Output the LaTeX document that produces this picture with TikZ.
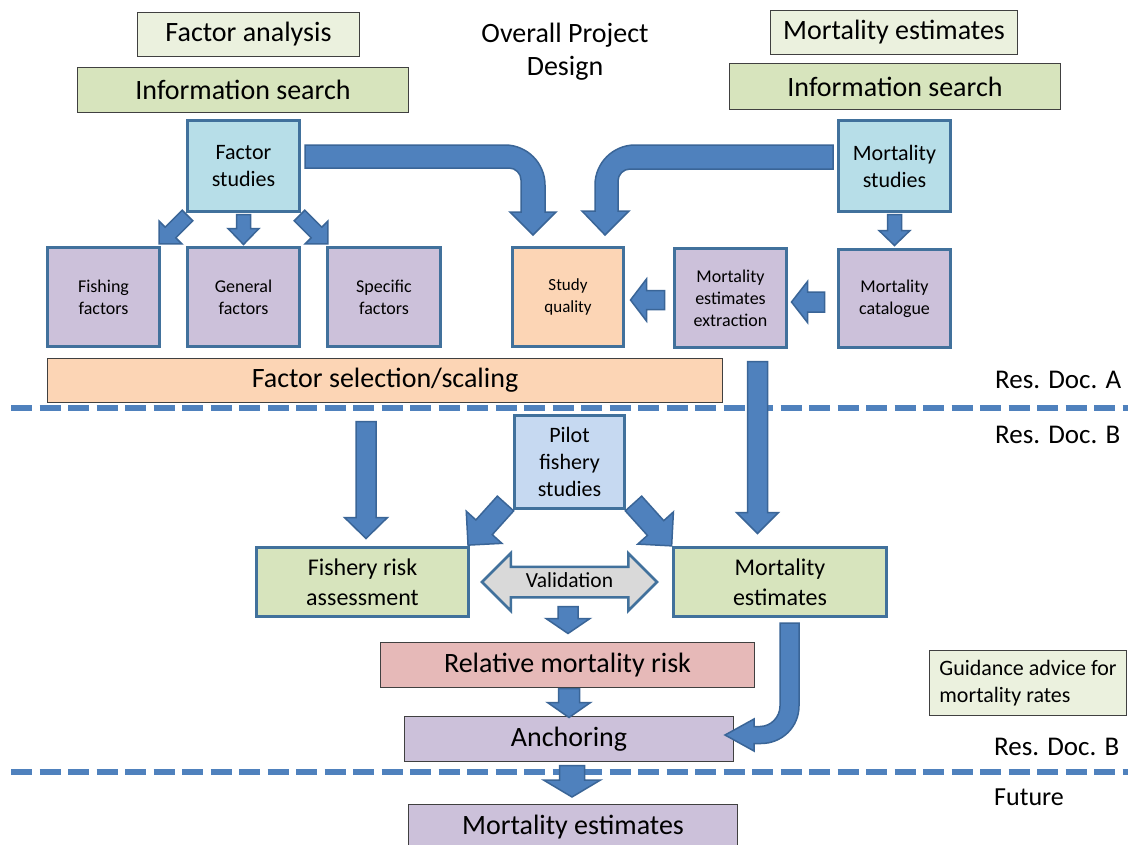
\documentclass[tikz,border=0pt]{standalone}
\usepackage{fontspec}
\setmainfont{Carlito}
\usetikzlibrary{calc,shapes.arrows}
\definecolor{arrfill}{HTML}{4F81BD}
\definecolor{arrline}{HTML}{3A6597}
\definecolor{boxline}{HTML}{41719C}
\definecolor{lgreen}{HTML}{EBF1DE}
\definecolor{mgreen}{HTML}{D7E4BD}
\definecolor{lblue}{HTML}{B7DEE8}
\definecolor{pblue}{HTML}{C6D9F1}
\definecolor{lpurple}{HTML}{CCC1DA}
\definecolor{lorange}{HTML}{FCD5B5}
\definecolor{lpink}{HTML}{E6B9B8}
\definecolor{lgray}{HTML}{D9D9D9}
\tikzset{
  barrow/.style={fill=arrfill, draw=arrline, line width=1.5pt, line join=miter},
  bbox/.style={draw=boxline, line width=3pt, inner sep=2pt, align=center, outer sep=0pt},
  tbox/.style={draw=black!75, line width=1.2pt, inner sep=2pt, align=center, outer sep=0pt},
  lbl/.style={anchor=west, inner sep=0pt, font=\fontsize{27}{33}\selectfont},
  f28/.style={font=\fontsize{28}{33}\selectfont},
  f24/.style={font=\fontsize{24}{30}\selectfont},
  f22/.style={font=\fontsize{22}{27}\selectfont},
  f18/.style={font=\fontsize{18}{22}\selectfont},
  f17/.style={font=\fontsize{17}{22}\selectfont},
  dashline/.style={draw=arrfill, line width=6.5pt, dash pattern=on 21pt off 7.5pt},
  valarrow/.style={shape=double arrow, fill=lgray, draw=boxline, line width=2.5pt,
    double arrow head extend=13.5pt, minimum height=175pt, inner xsep=0pt, inner ysep=4pt,
    text height=15pt, text depth=5pt, font=\fontsize{21.5}{25}\selectfont}
}
\newcommand{\blockarr}[6]{%
  \begin{scope}[shift={#1},rotate=#2]
    \draw[barrow] (0,#4) -- ({#3-#6},#4) -- ({#3-#6},#5) -- (#3,0) -- ({#3-#6},-#5) -- ({#3-#6},-#4) -- (0,-#4) -- cycle;
  \end{scope}}
\begin{document}
\begin{tikzpicture}[x=1pt,y=-1pt]
\useasboundingbox (0,0) rectangle (1128,844);
\fill[white] (0,0) rectangle (1128,844);

% separators
\draw[dashline] (11,408) -- (1128,408);
\draw[dashline] (11,772) -- (1128,772);

% top headers
\node[tbox,fill=lgreen,f28,minimum width=222,minimum height=44] (fa) at (248.5,34.5) {Factor analysis};
\node[tbox,fill=mgreen,f28,minimum width=331,minimum height=45] (isL) at (243,90) {Information search};
\node[tbox,fill=lgreen,f28,minimum width=247,minimum height=44] (me) at (894,32.5) {Mortality estimates};
\node[tbox,fill=mgreen,f28,minimum width=331,minimum height=46] (isR) at (895,86.5) {Information search};
\node[f28,align=center] (opd) at (565,52) {Overall Project\\Design};

% upper boxes
\node[bbox,fill=lblue,f22,minimum width=112,minimum height=91] (fs) at (243.5,166) {Factor\\studies};
\node[bbox,fill=lblue,f22,minimum width=112,minimum height=91] (ms) at (894.5,166) {Mortality\\studies};
\node[bbox,fill=lpurple,f18,minimum width=112,minimum height=99] (ff) at (103.5,297) {Fishing\\factors};
\node[bbox,fill=lpurple,f18,minimum width=112,minimum height=99] (gf) at (243.5,297) {General\\factors};
\node[bbox,fill=lpurple,f18,minimum width=113,minimum height=99] (sf) at (384,297) {Specific\\factors};
\node[bbox,fill=lorange,f17,minimum width=111,minimum height=99] (sq) at (568,297) {Study\\quality};
\node[bbox,fill=lpurple,f18,minimum width=112,minimum height=99] (ex) at (730.5,298) {Mortality\\estimates\\extraction};
\node[bbox,fill=lpurple,f18,minimum width=112,minimum height=98] (mc) at (894.5,298.5) {Mortality\\catalogue};
\node[tbox,fill=lorange,f28,minimum width=675,minimum height=44] (fsel) at (385,380.5) {Factor selection/scaling};

% lower boxes
\node[bbox,fill=pblue,f22,minimum width=110,minimum height=93] (pf) at (569.5,462) {Pilot\\fishery\\studies};
\node[bbox,fill=mgreen,f24,minimum width=212,minimum height=69] (fr) at (362.5,582) {Fishery risk\\assessment};
\node[bbox,fill=mgreen,f24,minimum width=213,minimum height=69] (mg) at (780,582) {Mortality\\estimates};
\node[valarrow] (va) at (569.5,582) {Validation};
\node[tbox,fill=lpink,f28,minimum width=374,minimum height=45] (rm) at (567.5,665) {Relative mortality risk};
\node[tbox,fill=lpurple,f28,minimum width=329,minimum height=45] (an) at (569,739) {Anchoring};
\node[tbox,fill=lpurple,f28,minimum width=329,minimum height=45] (bm) at (573,827) {Mortality estimates};
\node[tbox,fill=lgreen,f22,align=left,minimum width=197,minimum height=65] (gd) at (1028,683) {Guidance advice for\\mortality rates};

% side labels
\node[lbl] (ra) at (995,380) {Res. Doc. A};
\node[lbl] (rb1) at (995,435) {Res. Doc. B};
\node[lbl] (rb2) at (994,747) {Res. Doc. B};
\node[lbl,font=\fontsize{26}{30}\selectfont] (fu) at (994,797) {Future};

% straight block arrows
\blockarr{($(fs.south west)+(0,4)$)}{-135}{40}{7.5}{16}{16}
\blockarr{($(fs.south)+(0,3)$)}{-90}{30}{7}{15.5}{16}
\blockarr{($(fs.south east)+(0,4)$)}{-45}{40}{7.5}{16}{16}
\blockarr{($(ms.south)+(0,3)$)}{-90}{31}{7}{15.5}{15}
\blockarr{($(mc.west)+(-14,3.5)$)}{180}{33}{10}{20.5}{16}
\blockarr{($(ex.west)+(-10,2)$)}{180}{34}{9.5}{21}{16}
\blockarr{($(fsel.south)+(-19,19)$)}{-90}{117}{10}{21.5}{21}
\blockarr{($(ex.south)+(27,14)$)}{-90}{172}{10}{21}{21}
\blockarr{($(pf.south west)+(-9,-5)$)}{-132}{56}{11}{24}{24}
\blockarr{($(pf.south east)+(9,-5)$)}{-48}{57}{11}{24}{24}
\blockarr{($(rm.north)+(0.5,-36)$)}{-90}{27}{10}{22}{15}
\blockarr{($(rm.south)+(1.5,1)$)}{-90}{29}{10.5}{21.5}{15}
\blockarr{($(an.south)+(3,4)$)}{-90}{31.5}{12.5}{28.5}{17}

% curved block arrows
\draw[barrow] (305,145) -- (505,145) .. controls (527,145) and (545,163) .. (545,185)
  -- (545,212) -- (556,212) -- (533,235) -- (510,212) -- (521,212) -- (521,180)
  .. controls (521,173.4) and (515.6,168) .. (509,168) -- (305,168) -- cycle;
\draw[barrow] (833,145) -- (635,145) .. controls (613,145) and (595,163) .. (595,185)
  -- (595,211) -- (582,211) -- (605,235) -- (629,211) -- (618,211) -- (618,181)
  .. controls (618,174.4) and (623.4,169) .. (630,169) -- (833,169) -- cycle;
\draw[barrow] (780,623) -- (799,623) -- (799,706) .. controls (799,727) and (782,743.5) .. (761,743.5)
  -- (754,743.5) -- (754,751) -- (725,735) -- (754,719) -- (754,726.5) -- (760,726.5)
  .. controls (771,726.5) and (780,717) .. (780,706) -- cycle;
\end{tikzpicture}
\end{document}
